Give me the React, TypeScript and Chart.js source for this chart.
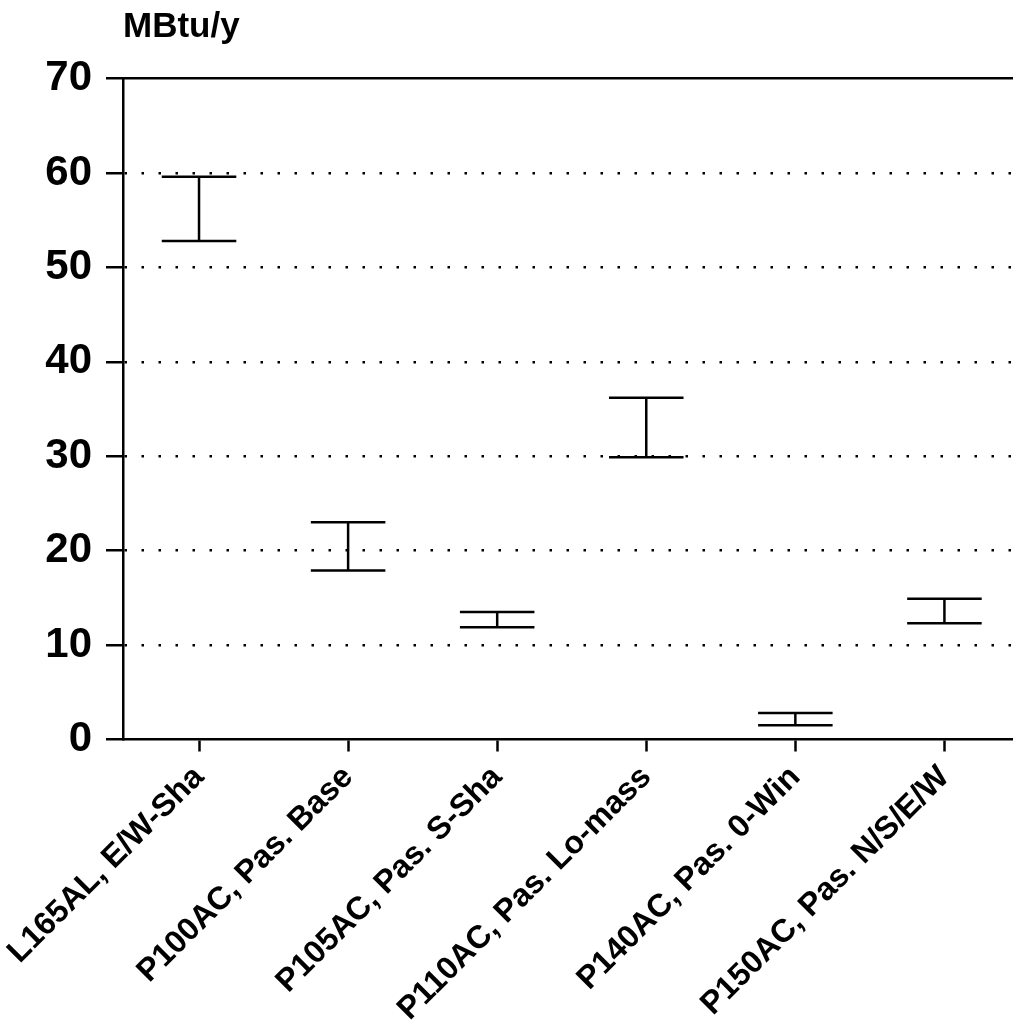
import React, { useEffect, useRef } from "react";
import { Chart, registerables } from "chart.js";

Chart.register(...registerables);

const categories = [
  "L165AL, E/W-Sha",
  "P100AC, Pas. Base",
  "P105AC, Pas. S-Sha",
  "P110AC, Pas. Lo-mass",
  "P140AC, Pas. 0-Win",
  "P150AC, Pas. N/S/E/W",
];
const highValues = [59.6, 23.0, 13.5, 36.2, 2.8, 14.9];
const lowValues = [52.8, 17.9, 11.9, 29.9, 1.5, 12.3];
const yTicks = [0, 10, 20, 30, 40, 50, 60, 70];
const yTitle = "MBtu/y";

const CAP = 0.25;
const FONT = "'Liberation Sans', Arial, Helvetica, sans-serif";

export default function App() {
  const ref = useRef<HTMLCanvasElement | null>(null);

  useEffect(() => {
    if (!ref.current) return;
    const pts: any[] = [];
    categories.forEach((_, i) => {
      const hi = highValues[i];
      const lo = lowValues[i];
      pts.push({ x: i - CAP, y: hi }, { x: i + CAP, y: hi }, { x: i, y: null });
      pts.push({ x: i, y: hi }, { x: i, y: lo }, { x: i, y: null });
      pts.push({ x: i - CAP, y: lo }, { x: i + CAP, y: lo }, { x: i, y: null });
    });

    const chart = new Chart(ref.current, {
      type: "line",
      data: {
        datasets: [
          {
            data: pts,
            borderColor: "#000",
            borderWidth: 2.5,
            pointRadius: 0,
            spanGaps: false,
            fill: false,
          },
        ],
      },
      options: {
        animation: false,
        responsive: false,
        layout: { padding: 0 },
        plugins: { legend: { display: false }, tooltip: { enabled: false } },
        scales: {
          x: {
            type: "linear",
            position: "bottom",
            min: -0.51,
            max: 5.46,
            afterBuildTicks: (s: any) => {
              s.ticks = categories.map((_, i) => ({ value: i }));
            },
            afterFit: (s: any) => {
              s.height = 285.5;
              s.paddingLeft = 0;
              s.paddingRight = 0;
            },
            ticks: {
              autoSkip: false,
              minRotation: 45,
              maxRotation: 45,
              padding: 7,
              color: "#000",
              font: { family: FONT, size: 32, weight: "bold" },
              callback: (v: any) => categories[v as number] ?? "",
            },
            grid: {
              drawOnChartArea: false,
              drawTicks: true,
              tickLength: 12,
              tickWidth: 2.5,
              tickColor: "#000",
            },
            border: { display: true, color: "#000", width: 2.5 },
          },
          x2: {
            type: "linear",
            position: "top",
            min: -0.51,
            max: 5.46,
            afterFit: (s: any) => {
              s.height = 78.5;
            },
            ticks: { display: false },
            grid: { drawOnChartArea: false, drawTicks: false },
            border: { display: true, color: "#000", width: 2.5 },
            title: {
              display: true,
              text: yTitle,
              align: "start",
              color: "#000",
              font: { family: FONT, size: 35, weight: "bold" },
              padding: { top: 6, bottom: 0 },
            },
          },
          y: {
            type: "linear",
            min: 0,
            max: 70,
            afterBuildTicks: (s: any) => {
              s.ticks = yTicks.map((v) => ({ value: v }));
            },
            afterFit: (s: any) => {
              s.width = 123;
            },
            ticks: {
              padding: 14,
              color: "#000",
              font: { family: FONT, size: 42, weight: "bold" },
            },
            grid: {
              drawTicks: true,
              tickLength: 17,
              tickWidth: 2.5,
              tickColor: "#000",
              lineWidth: 2.5,
              color: (c: any) =>
                c.tick && c.tick.value > 0 && c.tick.value < 70 ? "#000" : "rgba(0,0,0,0)",
            },
            border: { display: true, color: "#000", width: 2.5, dash: [2.5, 14.5] },
          },
        },
      },
    });
    return () => chart.destroy();
  }, []);

  return (
    <div style={{ position: "absolute", left: 0, top: 0, width: 1013, height: 1025, background: "#fff" }}>
      <canvas ref={ref} width={1013} height={1025} style={{ display: "block" }} />
    </div>
  );
}
